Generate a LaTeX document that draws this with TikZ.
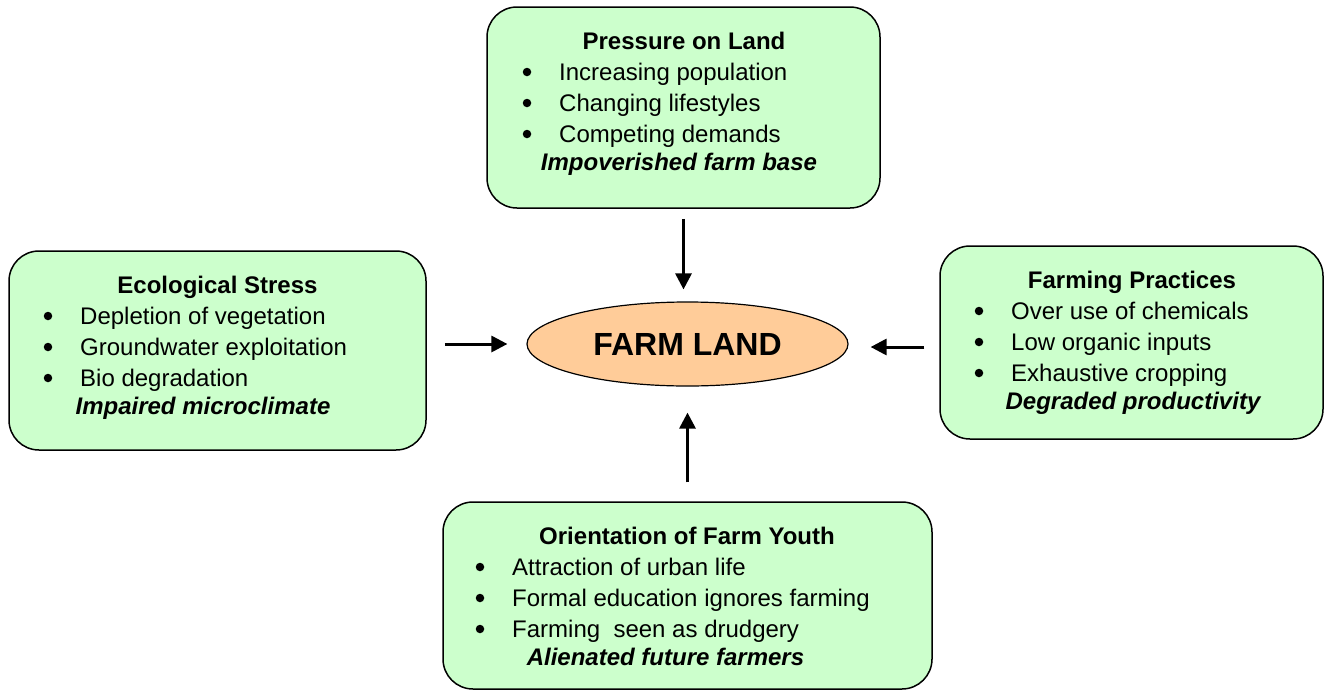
\documentclass[tikz,border=0pt]{standalone}
\usepackage{fontspec}
\setmainfont{Liberation Sans}
\usetikzlibrary{arrows.meta,shapes.geometric}
\definecolor{boxgreen}{HTML}{CCFFCC}
\definecolor{farmorange}{HTML}{FFCC99}
\begin{document}
\begin{tikzpicture}[x=1pt,y=-1pt,
  box/.style={draw=black,line width=1.5pt,fill=boxgreen,rounded corners=30pt,inner sep=0pt},
  txt/.style={font=\fontsize{24}{28}\selectfont,anchor=base west,inner sep=0pt},
  ttl/.style={font=\fontsize{24}{28}\selectfont\bfseries,anchor=base,inner sep=0pt},
  itl/.style={font=\fontsize{24}{28}\selectfont\bfseries\itshape,anchor=base,inner sep=0pt},
  bul/.style={circle,fill=black,inner sep=0pt,minimum size=8.5pt},
  arr/.style={line width=3pt,-{Triangle[length=16pt,width=16pt]}}]
\useasboundingbox (0,0) rectangle (1325,691);

% central ellipse
\node[ellipse,draw=black,line width=1.2pt,fill=farmorange,minimum width=321pt,minimum height=84pt,inner sep=0pt,
  font=\fontsize{32}{36}\selectfont\bfseries] (farm) at (687.5,344) {FARM LAND};

% boxes
\node[box,minimum width=393pt,minimum height=201pt] (pressure) at (683.5,107.5) {};
\node[box,minimum width=417pt,minimum height=199pt] (eco) at (217.5,350.5) {};
\node[box,minimum width=383pt,minimum height=193pt] (practice) at (1131.5,342.5) {};
\node[box,minimum width=489pt,minimum height=187pt] (youth) at (687.5,595.5) {};

% Pressure on Land
\node[ttl] (p0) at (684,49) {Pressure on Land};
\node[bul] (pb1) at (527,72) {};
\node[txt] (p1) at (559,80) {Increasing population};
\node[bul] (pb2) at (527,103) {};
\node[txt] (p2) at (559,111) {Changing lifestyles};
\node[bul] (pb3) at (527,134) {};
\node[txt] (p3) at (559,142) {Competing demands};
\node[itl] (p4) at (679,170) {Impoverished farm base};

% Ecological Stress
\node[ttl] (e0) at (217.5,293) {Ecological Stress};
\node[bul] (eb1) at (48,316) {};
\node[txt] (e1) at (80,324) {Depletion of vegetation};
\node[bul] (eb2) at (48,347) {};
\node[txt] (e2) at (80,355) {Groundwater exploitation};
\node[bul] (eb3) at (48,378) {};
\node[txt] (e3) at (80,386) {Bio degradation};
\node[itl] (e4) at (203,414) {Impaired microclimate};

% Farming Practices
\node[ttl] (f0) at (1132,288) {Farming Practices};
\node[bul] (fb1) at (979,311) {};
\node[txt] (f1) at (1011,319) {Over use of chemicals};
\node[bul] (fb2) at (979,342) {};
\node[txt] (f2) at (1011,350) {Low organic inputs};
\node[bul] (fb3) at (979,373) {};
\node[txt] (f3) at (1011,381) {Exhaustive cropping};
\node[itl] (f4) at (1133,409) {Degraded productivity};

% Orientation of Farm Youth
\node[ttl] (y0) at (687,544) {Orientation of Farm Youth};
\node[bul] (yb1) at (480,567) {};
\node[txt] (y1) at (512,575) {Attraction of urban life};
\node[bul] (yb2) at (480,598) {};
\node[txt] (y2) at (512,606) {Formal education ignores farming};
\node[bul] (yb3) at (480,629) {};
\node[txt] (y3) at (512,637) {Farming\ \ seen as drudgery};
\node[itl] (y4) at (665.5,665) {Alienated future farmers};

% arrows
\draw[arr,shorten <=10pt,shorten >=12pt] (pressure.south) -- (pressure.south |- farm.north);
\draw[arr,shorten <=19pt,shorten >=26pt] (youth.north) -- (youth.north |- farm.south);
\draw[arr,shorten <=18pt,shorten >=19pt] (eco.east |- farm.west) -- (farm.west);
\draw[arr,shorten <=15pt,shorten >=22pt] ([yshift=-3pt]practice.west |- farm.east) -- ([yshift=-3pt]farm.east);
\end{tikzpicture}
\end{document}
